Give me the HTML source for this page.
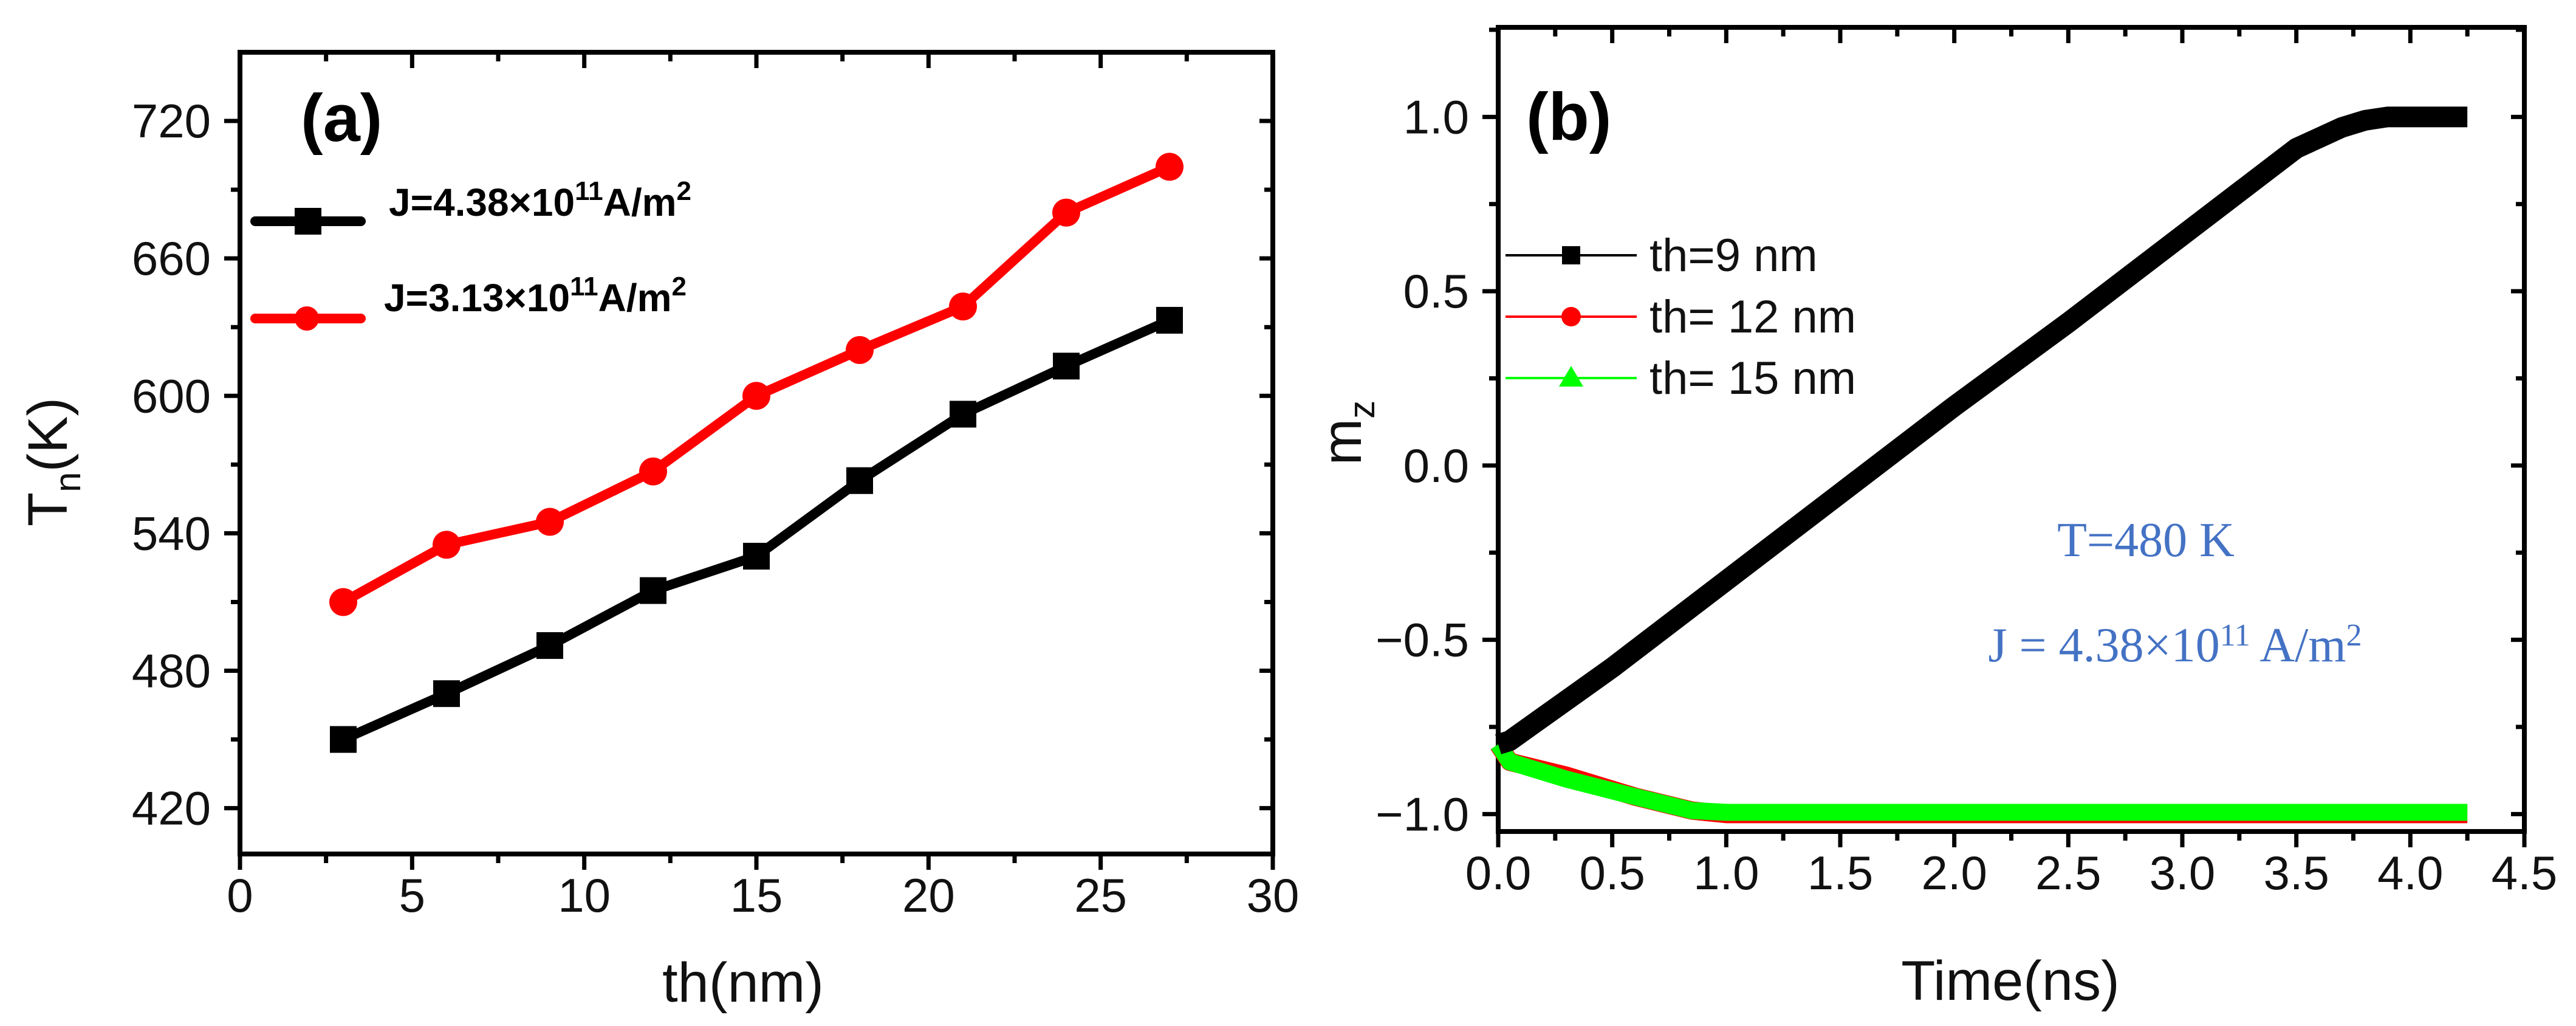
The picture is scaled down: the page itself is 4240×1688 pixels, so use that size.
<!DOCTYPE html>
<html><head><meta charset="utf-8"><style>
html,body{margin:0;padding:0;background:#fff;width:4240px;height:1688px;overflow:hidden}
svg{display:block}
text{font-family:"Liberation Sans",Arial,sans-serif}
</style></head><body>
<svg id="fig" width="4240" height="1688" viewBox="0 0 4240 1688">
  <g id="pa"></g>
  <g id="pb"></g>
</svg>
<script>
// Panel (a) data
const thA = [3, 6, 9, 12, 15, 18, 21, 24, 27];
const tnHigh = [450, 470, 491, 515, 530, 563, 592, 613, 633];
const tnLow = [510, 535, 545, 567, 600, 620, 639, 680, 700];
const aXTicks = [0, 5, 10, 15, 20, 25, 30];
const aYTicks = [420, 480, 540, 600, 660, 720];
// Panel (b) data
const tTh9 = [0, 0.05, 0.5, 1.0, 1.5, 2.0, 2.5, 3.0, 3.5, 3.6, 3.7, 3.8, 3.9, 4.0, 4.25];
const mTh9 = [-0.8, -0.79, -0.6, -0.4, -0.2, 0.0, 0.2, 0.4, 0.6, 0.92, 0.95, 0.98, 0.995, 1.0, 1.0];
const tTh12 = [0, 0.05, 0.3, 0.6, 0.85, 1.0, 2.0, 3.0, 4.25];
const mTh12 = [-0.8, -0.85, -0.89, -0.95, -0.99, -1.0, -1.0, -1.0, -1.0];
const tTh15 = [0, 0.05, 0.3, 0.6, 0.85, 1.0, 2.0, 3.0, 4.25];
const mTh15 = [-0.8, -0.85, -0.9, -0.95, -0.99, -0.995, -0.995, -0.995, -0.995];
const bXTicks = [0, 0.5, 1.0, 1.5, 2.0, 2.5, 3.0, 3.5, 4.0, 4.5];
const bYTicks = [-1.0, -0.5, 0.0, 0.5, 1.0];

// fix mTh9 to be linear between 0 and 3.5 per picture
mTh9.splice(0, mTh9.length, -0.8, -0.79, -0.58, -0.33, -0.08, 0.17, 0.41, 0.66, 0.91, 0.94, 0.97, 0.99, 1.0, 1.0, 1.0);

const NS = "http://www.w3.org/2000/svg";
function mk(parent, tag, attrs, txt) {
  const e = document.createElementNS(NS, tag);
  for (const k in attrs) e.setAttribute(k, attrs[k]);
  if (txt !== undefined) e.textContent = txt;
  parent.appendChild(e);
  return e;
}
function scale(d0, d1, r0, r1) { return v => r0 + (v - d0) / (d1 - d0) * (r1 - r0); }

function frame(g, L, R, T, B, xs, ys, xTicks, yTicks, xMinor, yMinor, fmtX, fmtY, xMin, xMax, yMin, yMax) {
  const box = mk(g, 'rect', {x: L, y: T, width: R - L, height: B - T, fill: 'none', stroke: '#000', 'stroke-width': 8});
  
  
  const tk = mk(g, 'g', {stroke: '#000', 'stroke-width': 7});
  
  
  xTicks.forEach(v => {
    const x = xs(v);
    mk(tk, 'line', {x1: x, y1: B, x2: x, y2: B + 26});
    mk(tk, 'line', {x1: x, y1: T, x2: x, y2: T + 26});
    const t = mk(g, 'text', {x: x, y: B + 95, 'font-size': 78, 'text-anchor': 'middle', fill: '#111'}, fmtX(v));
    
    
  });
  for (let v = xMin + xMinor; v < xMax; v += xMinor * 2) {
    const x = xs(v);
    mk(tk, 'line', {x1: x, y1: B, x2: x, y2: B + 15});
    mk(tk, 'line', {x1: x, y1: T, x2: x, y2: T + 15});
  }
  yTicks.forEach(v => {
    const y = ys(v);
    mk(tk, 'line', {x1: L - 26, y1: y, x2: L, y2: y});
    mk(tk, 'line', {x1: R - 22, y1: y, x2: R, y2: y});
    const t = mk(g, 'text', {x: L - 48, y: y + 27, 'font-size': 78, 'text-anchor': 'end', fill: '#111'}, fmtY(v));
    
    
  });
  for (let v = yTicks[0] - yMinor; v > yMin; v -= yMinor * 2) {
    mk(tk, 'line', {x1: L - 15, y1: ys(v), x2: L, y2: ys(v)});
  }
  for (let v = yTicks[0] + yMinor; v < yMax; v += yMinor * 2) {
    const y = ys(v);
    mk(tk, 'line', {x1: L - 15, y1: y, x2: L, y2: y});
    mk(tk, 'line', {x1: R - 14, y1: y, x2: R, y2: y});
  }
}
function pts(xa, ya, xs, ys) { return xa.map((v, i) => xs(v) + ',' + ys(ya[i])).join(' '); }

// ---------- Panel A ----------
(function () {
  const g = document.getElementById('pa');
  const L = 395, R = 2095, T = 86, B = 1405;
  const xs = scale(0, 30, L, R), ys = scale(400, 750, B, T);
  frame(g, L, R, T, B, xs, ys, aXTicks, aYTicks, 2.5, 30, v => String(v), v => String(v), 0, 30, 400, 750);
  const series = [[tnHigh, '#000', 'series-j438', 'square'], [tnLow, '#f00', 'series-j313', 'circle']];
  series.forEach(([d, c, nm, shp]) => {
    const sg = mk(g, 'g', {});
    
    
    mk(sg, 'polyline', {points: pts(thA, d, xs, ys), fill: 'none', stroke: c, 'stroke-width': 16});
    thA.forEach((v, i) => {
      let m;
      if (shp === 'square') m = mk(sg, 'rect', {x: xs(v) - 22, y: ys(d[i]) - 22, width: 44, height: 44, fill: c});
      else m = mk(sg, 'circle', {cx: xs(v), cy: ys(d[i]), r: 23, fill: c});
      
      
    });
  });
  const lab = mk(g, 'text', {x: 495, y: 232, 'font-size': 110, 'font-weight': 'bold', fill: '#000'}, '(a)');
  
  
  // legend
  const lg = mk(g, 'g', {});
  
  
  mk(lg, 'line', {x1: 420, y1: 364, x2: 594, y2: 364, stroke: '#000', 'stroke-width': 16, 'stroke-linecap': 'round'});
  mk(lg, 'rect', {x: 485, y: 342, width: 44, height: 44, fill: '#000'});
  mk(lg, 'line', {x1: 420, y1: 524, x2: 594, y2: 524, stroke: '#f00', 'stroke-width': 16, 'stroke-linecap': 'round'});
  mk(lg, 'circle', {cx: 505, cy: 524, r: 20, fill: '#f00'});
  const t1 = mk(lg, 'text', {x: 640, y: 355, 'font-size': 64, 'font-weight': 'bold'});
  t1.innerHTML = 'J=4.38×10<tspan dy="-26" font-size="44">11</tspan><tspan dy="26">A/m</tspan><tspan dy="-26" font-size="44">2</tspan>';
  
  
  const t2 = mk(lg, 'text', {x: 632, y: 512, 'font-size': 64, 'font-weight': 'bold'});
  t2.innerHTML = 'J=3.13×10<tspan dy="-26" font-size="44">11</tspan><tspan dy="26">A/m</tspan><tspan dy="-26" font-size="44">2</tspan>';
  
  
  const xt = mk(g, 'text', {x: 1223, y: 1648, 'font-size': 92, 'text-anchor': 'middle', fill: '#111'}, 'th(nm)');
  
  
  const yt = mk(g, 'text', {transform: 'translate(110,760) rotate(-90)', 'font-size': 92, 'text-anchor': 'middle', fill: '#111'});
  yt.innerHTML = 'T<tspan dy="22" font-size="60">n</tspan><tspan dy="-22">(K)</tspan>';
  
  
})();

// ---------- Panel B ----------
(function () {
  const g = document.getElementById('pb');
  const L = 2466, R = 4155, T = 45, B = 1368;
  const xs = scale(0, 4.5, L, R), ys = scale(-1.05, 1.257, B, T);
  frame(g, L, R, T, B, xs, ys, bXTicks, bYTicks, 0.25, 0.25, v => v.toFixed(1), v => (v < 0 ? '\u2212' : '') + Math.abs(v).toFixed(1), 0, 4.5, -1.05, 1.257);
  const series = [[tTh12, mTh12, '#f00', 'series-th12', 30], [tTh15, mTh15, '#00ff00', 'series-th15', 28], [tTh9, mTh9, '#000', 'series-th9', 34]];
  series.forEach(([xa, ya, c, nm, w]) => {
    const p = mk(g, 'polyline', {points: pts(xa, ya, xs, ys), fill: 'none', stroke: c, 'stroke-width': w, 'stroke-linejoin': 'round'});
    
    
  });
  const lab = mk(g, 'text', {x: 2512, y: 230, 'font-size': 110, 'font-weight': 'bold', fill: '#000'}, '(b)');
  
  
  const lg = mk(g, 'g', {});
  
  
  const rows = [['th=9 nm', '#000', 420, 'sq'], ['th= 12 nm', '#f00', 521, 'ci'], ['th= 15 nm', '#00ff00', 622, 'tr']];
  rows.forEach(([lbl, c, y, s]) => {
    mk(lg, 'line', {x1: 2478, y1: y, x2: 2694, y2: y, stroke: c, 'stroke-width': 4});
    if (s === 'sq') mk(lg, 'rect', {x: 2571, y: y - 15, width: 30, height: 30, fill: c});
    else if (s === 'ci') mk(lg, 'circle', {cx: 2586, cy: y, r: 16, fill: c});
    else mk(lg, 'polygon', {points: `2586,${y - 20} 2606,${y + 14} 2566,${y + 14}`, fill: c});
    const t = mk(lg, 'text', {x: 2715, y: y + 26, 'font-size': 76, fill: '#111'}, lbl);
    
    
  });
  const a1 = mk(g, 'text', {x: 3532, y: 915, 'font-size': 80, 'text-anchor': 'middle', fill: '#4472c4', 'font-family': '"Liberation Serif",serif', style: 'font-family:"Liberation Serif",serif'}, 'T=480 K');
  
  
  const a2 = mk(g, 'text', {x: 3580, y: 1088, 'font-size': 80, 'text-anchor': 'middle', fill: '#4472c4', style: 'font-family:"Liberation Serif",serif'});
  a2.innerHTML = 'J = 4.38×10<tspan dy="-26" font-size="52">11</tspan><tspan dy="26"> A/m</tspan><tspan dy="-26" font-size="52">2</tspan>';
  
  
  const xt = mk(g, 'text', {x: 3309, y: 1645, 'font-size': 92, 'text-anchor': 'middle', fill: '#111'}, 'Time(ns)');
  
  
  const yt = mk(g, 'text', {transform: 'translate(2240,712) rotate(-90)', 'font-size': 92, 'text-anchor': 'middle', fill: '#111'});
  yt.innerHTML = 'm<tspan dy="22" font-size="60">z</tspan>';
  
  
})();
</script>
</body></html>
